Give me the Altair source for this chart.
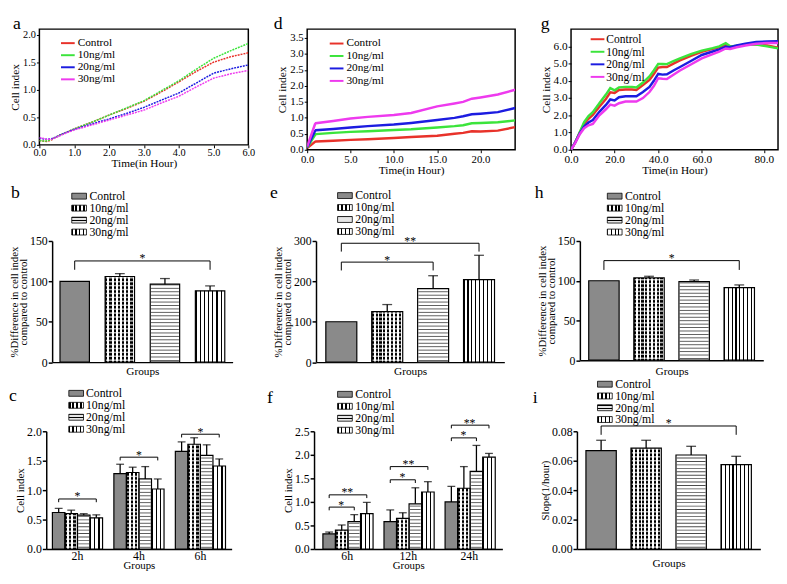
import altair as alt
import pandas as pd

FONT = "Liberation Serif"
GROUPS = ["Control", "10ng/ml", "20ng/ml", "30ng/ml"]
LINE_COLORS = ["#e8322a", "#3be43b", "#1c1ce0", "#ee3aee"]

# ---------------- panel a (0-6 h) ----------------
A_T = [0, 0.1, 0.2, 0.35, 0.5, 0.75, 1.0, 1.5, 2.0, 2.5, 3.0, 3.5, 4.0, 4.5, 5.0, 5.5, 6.0]
A_CONTROL = [0.08, 0.07, 0.06, 0.09, 0.15, 0.22, 0.29, 0.41, 0.54, 0.66, 0.79, 0.96, 1.14, 1.33, 1.50, 1.60, 1.67]
A_10 = [0.08, 0.07, 0.07, 0.10, 0.15, 0.22, 0.29, 0.41, 0.54, 0.67, 0.80, 0.98, 1.16, 1.37, 1.57, 1.71, 1.84]
A_20 = [0.12, 0.11, 0.10, 0.11, 0.15, 0.22, 0.28, 0.38, 0.47, 0.57, 0.68, 0.81, 0.94, 1.12, 1.30, 1.38, 1.45]
A_30 = [0.13, 0.12, 0.10, 0.10, 0.14, 0.21, 0.27, 0.36, 0.45, 0.54, 0.63, 0.76, 0.88, 1.05, 1.21, 1.29, 1.35]

# ---------------- panel d (0-24 h) ----------------
D_T = [0, 0.9, 1.0, 3, 5, 7, 10, 12, 15, 17, 18, 19, 20, 22, 24]
D_CONTROL = [0.05, 0.25, 0.26, 0.28, 0.31, 0.33, 0.37, 0.40, 0.44, 0.50, 0.53, 0.58, 0.57, 0.60, 0.71]
D_10 = [0.07, 0.46, 0.49, 0.53, 0.56, 0.58, 0.62, 0.64, 0.70, 0.74, 0.77, 0.83, 0.84, 0.86, 0.92]
D_20 = [0.08, 0.58, 0.61, 0.65, 0.70, 0.74, 0.79, 0.84, 0.93, 1.00, 1.05, 1.11, 1.13, 1.18, 1.31]
D_30 = [0.10, 0.80, 0.83, 0.90, 0.98, 1.03, 1.09, 1.15, 1.36, 1.45, 1.50, 1.60, 1.64, 1.73, 1.88]

# ---------------- panel g (long run) ----------------
G_T = [0, 2, 4, 6, 8, 10, 13, 16, 18, 20, 22, 25, 28, 30, 33, 36, 38, 40, 42, 44, 47, 50,
       55, 60, 65, 68, 71, 73, 76, 80, 85, 90, 95]
G_CONTROL = [0, 0.45, 1.0, 1.5, 1.8, 2.02, 2.5, 2.95, 3.33, 3.3, 3.47, 3.5, 3.5, 3.47, 3.75, 4.05, 4.4,
             4.77, 4.8, 4.8, 5.0, 5.18, 5.45, 5.68, 5.85, 5.95, 6.1, 5.98, 6.02, 6.1, 6.12, 6.05, 5.92]
G_10 = [0, 0.45, 1.02, 1.6, 1.95, 2.18, 2.7, 3.2, 3.58, 3.45, 3.62, 3.65, 3.65, 3.62, 3.9, 4.25, 4.6,
        4.98, 4.98, 4.97, 5.15, 5.3, 5.55, 5.75, 5.9, 6.0, 6.18, 6.0, 6.03, 6.1, 6.1, 6.0, 5.88]
G_20 = [0, 0.45, 0.95, 1.35, 1.58, 1.73, 2.2, 2.6, 2.92, 2.86, 3.05, 3.1, 3.1, 3.11, 3.35, 3.65, 4.0,
        4.4, 4.36, 4.38, 4.6, 4.8, 5.15, 5.5, 5.7, 5.82, 5.98, 5.95, 6.05, 6.15, 6.25, 6.28, 6.3]
G_30 = [0, 0.42, 0.9, 1.25, 1.42, 1.5, 2.0, 2.35, 2.62, 2.56, 2.7, 2.8, 2.8, 2.8, 3.0, 3.35, 3.7,
        4.15, 4.12, 4.1, 4.35, 4.6, 4.95, 5.3, 5.55, 5.7, 5.88, 5.85, 5.95, 6.05, 6.15, 6.2, 6.2]

# ---------------- bar panels b, e, h, i ----------------
B_MEAN = [100, 106, 96.5, 88.3]
B_SEM = [0, 3.6, 7.0, 6.1]
B_SIG = [(None, "Control", "30ng/ml", 125.3, "*")]

E_MEAN = [100, 124.9, 182, 204.4]
E_SEM = [0, 17.7, 32, 60.2]
E_SIG = [(None, "Control", "30ng/ml", 294.4, "**"), (None, "Control", "20ng/ml", 247.7, "*")]

H_MEAN = [100, 103.5, 98.8, 91.3]
H_SEM = [0, 2.1, 2.1, 3.4]
H_SIG = [(None, "Control", "30ng/ml", 125.3, "*")]

I_MEAN = [0.0669, 0.0685, 0.0639, 0.0574]
I_SEM = [0.0070, 0.0054, 0.0059, 0.0056]
I_SIG = [(None, "Control", "30ng/ml", 0.0836, "*")]

# ---------------- grouped bar panels c, f ----------------
C_TIMES = ["2h", "4h", "6h"]
C_CONTROL = [0.62, 1.28, 1.66]
C_CONTROL_SEM = [0.07, 0.16, 0.16]
C_10 = [0.60, 1.30, 1.78]
C_10_SEM = [0.06, 0.09, 0.11]
C_20 = [0.575, 1.19, 1.59]
C_20_SEM = [0.025, 0.21, 0.18]
C_30 = [0.53, 1.02, 1.41]
C_30_SEM = [0.05, 0.17, 0.12]
C_SIG = [("2h", "Control", "30ng/ml", 0.85, "*"), ("4h", "Control", "30ng/ml", 1.56, "*"),
         ("6h", "Control", "30ng/ml", 1.95, "*")]

F_TIMES = ["6h", "12h", "24h"]
F_CONTROL = [0.32, 0.58, 1.00]
F_CONTROL_SEM = [0.04, 0.25, 0.33]
F_10 = [0.40, 0.65, 1.29]
F_10_SEM = [0.11, 0.12, 0.46]
F_20 = [0.58, 0.96, 1.65]
F_20_SEM = [0.15, 0.34, 0.55]
F_30 = [0.75, 1.21, 1.95]
F_30_SEM = [0.24, 0.22, 0.08]
F_SIG = [("6h", "Control", "20ng/ml", 0.89, "*"), ("6h", "Control", "30ng/ml", 1.15, "**"),
         ("12h", "Control", "20ng/ml", 1.47, "*"), ("12h", "Control", "30ng/ml", 1.75, "**"),
         ("24h", "Control", "20ng/ml", 2.36, "*"), ("24h", "Control", "30ng/ml", 2.63, "**")]

ONE = pd.DataFrame({"k": [0]})


def stripe_grad(n, dark_frac, horizontal_lines=False, dark="black", light="white"):
    stops = []
    for k in range(n):
        a = k / n
        b = (k + dark_frac) / n
        c = (k + 1) / n
        stops += [alt.GradientStop(offset=a, color=dark), alt.GradientStop(offset=b, color=dark),
                  alt.GradientStop(offset=b, color=light), alt.GradientStop(offset=c, color=light)]
    if horizontal_lines:
        return alt.LinearGradient(gradient="linear", stops=stops, x1=0, x2=0, y1=0, y2=1)
    return alt.LinearGradient(gradient="linear", stops=stops, x1=0, x2=1, y1=0, y2=0)


def box_at(x, y):
    # invisible 1px box, used to fix the layout extent of a panel
    return alt.Chart(ONE).mark_rect(opacity=0).encode(
        x=alt.value(x), x2=alt.value(x + 1), y=alt.value(y), y2=alt.value(y + 1))


def anchors(w, h, anc):
    lx, ty, rx, by = anc
    return [box_at(-lx, -ty), box_at(w + rx - 1, h + by - 1)]


def letter(ch, rx, ry):
    # ry is the wanted baseline; drawn with a top baseline 13px above it
    return alt.Chart(ONE).mark_text(text=ch, font=FONT, fontSize=18, align="left",
                                    baseline="top", color="black").encode(
        x=alt.value(rx), y=alt.value(ry - 13))


def line_legend(lx, ly, dy, tx, fs):
    layers = []
    for i, (g, c) in enumerate(zip(GROUPS, LINE_COLORS)):
        y = ly + i * dy
        layers.append(alt.Chart(ONE).mark_rule(color=c, strokeWidth=2).encode(
            x=alt.value(lx), x2=alt.value(lx + 14), y=alt.value(y)))
        layers.append(alt.Chart(ONE).mark_text(text=g, font=FONT, fontSize=fs, align="left",
                                               baseline="middle", color="black").encode(
            x=alt.value(tx), y=alt.value(y)))
    return layers


def line_panel(t, series, xdom, ydom, w, h, xvals, yvals, lab_fs, sw, dash, leg, let, anc,
               xlabel_expr=None, lab_pad=1):
    rows = []
    for g, vals in zip(GROUPS, series):
        for tt, v in zip(t, vals):
            rows.append({"t": tt, "v": v, "g": g})
    df = pd.DataFrame(rows)
    xa = dict(values=xvals, format=".1f", title="Time(in Hour)", labelFontSize=lab_fs,
              titleFontSize=11.5, tickSize=3, labelPadding=lab_pad, titlePadding=0, domain=False,
              labelFlush=False, labelOverlap=False)
    if xlabel_expr:
        xa["labelExpr"] = xlabel_expr
    mk = dict(strokeWidth=sw, clip=True)
    if dash:
        mk["strokeDash"] = dash
    lines = alt.Chart(df).mark_line(**mk).encode(
        x=alt.X("t:Q", scale=alt.Scale(domain=xdom, nice=False, zero=False), axis=alt.Axis(**xa)),
        y=alt.Y("v:Q", scale=alt.Scale(domain=ydom, nice=False, zero=False),
                axis=alt.Axis(values=yvals, format=".1f", title="Cell index", labelFontSize=lab_fs,
                              titleFontSize=11.5, tickSize=3, labelPadding=1, titlePadding=2,
                              domain=False, labelOverlap=False)),
        color=alt.Color("g:N", scale=alt.Scale(domain=GROUPS, range=LINE_COLORS), legend=None),
    )
    layers = [lines] + line_legend(*leg) + [letter(let[2], let[0], let[1])] + anchors(w, h, anc)
    return alt.layer(*layers).properties(
        width=w, height=h, view=alt.ViewBackground(stroke="black", strokeWidth=1.5))


def bar_panel(times, means, sems, ydom, w, h, pi, po, yvals, yfmt, ytitle, sigs, drop_px,
              leg, let, groups_pad, cap, anc):
    n_x = len(times) if times else 4
    step = w / (n_x - pi + 2 * po)
    bw = step * (1 - pi)
    barw = bw / 4 if times else bw
    upp = (ydom[1] - ydom[0]) / h
    rows = []
    for gi, g in enumerate(GROUPS):
        if times:
            for ti, t in enumerate(times):
                m, s = means[gi][ti], sems[gi][ti]
                rows.append({"t": t, "g": g, "m": m, "hi": m + s, "e": s})
        else:
            m, s = means[gi], sems[gi]
            rows.append({"t": "", "g": g, "m": m, "hi": m + s, "e": s})
    df = pd.DataFrame(rows)
    xfield = "t:N" if times else "g:N"
    xs = alt.Scale(domain=times if times else GROUPS, paddingInner=pi, paddingOuter=po)
    ys = alt.Scale(domain=ydom, nice=False, zero=False)
    xos = alt.Scale(domain=GROUPS, paddingInner=0, paddingOuter=0)
    xaxis = alt.Axis(labels=bool(times), ticks=False, title="Groups", labelFontSize=12,
                     labelPadding=2, titlePadding=groups_pad, domainWidth=1.5,
                     titleFontSize=11 if times else 11.5, labelAngle=0)
    yaxis = alt.Axis(values=yvals, format=yfmt, title=ytitle, labelFontSize=12, tickSize=4,
                     tickWidth=1.5, domainWidth=1.5, labelPadding=1, titlePadding=1,
                     titleFontSize=11, titleLineHeight=9, labelOverlap=False)

    def X():
        return alt.X(xfield, scale=xs, axis=xaxis)

    def Y(f):
        return alt.Y(f, scale=ys, axis=yaxis)

    def off():
        return {"xOffset": alt.XOffset("g:N", scale=xos)} if times else {}

    nstr = max(2, round(barw / 4))
    fills = ["#8a8a8a", stripe_grad(nstr, 0.55), "white", stripe_grad(nstr, 0.3)]
    layers = []
    for gi, g in enumerate(GROUPS):
        layers.append(alt.Chart(df).transform_filter(alt.datum.g == g).mark_bar(
            fill=fills[gi], strokeWidth=0).encode(x=X(), y=Y("m:Q"), **off()))
    st10 = 4.0 * upp
    st20 = 3.5 * upp
    layers.append(alt.Chart(df).transform_filter(alt.datum.g == "10ng/ml").transform_calculate(
        s=f"sequence({st10 * 0.5:.6g}, datum.m, {st10:.6g})").transform_flatten(["s"]).mark_tick(
        orient="horizontal", color="white", thickness=1.5, size=barw - 1.5).encode(
        x=X(), y=Y("s:Q"), **off()))
    layers.append(alt.Chart(df).transform_filter(alt.datum.g == "20ng/ml").transform_calculate(
        s=f"sequence({st20 * 0.5:.6g}, datum.m, {st20:.6g})").transform_flatten(["s"]).mark_tick(
        orient="horizontal", color="black", thickness=0.9, size=barw - 1.5).encode(
        x=X(), y=Y("s:Q"), **off()))
    layers.append(alt.Chart(df).mark_bar(fillOpacity=0, stroke="black", strokeWidth=1.2).encode(
        x=X(), y=Y("m:Q"), **off()))
    layers.append(alt.Chart(df).transform_filter("datum.e > 0").mark_rule(
        color="black", strokeWidth=1.3).encode(x=X(), y=Y("m:Q"), y2="hi:Q", **off()))
    layers.append(alt.Chart(df).transform_filter("datum.e > 0").mark_tick(
        orient="horizontal", color="black", thickness=1.3, size=cap).encode(
        x=X(), y=Y("hi:Q"), **off()))
    brows = []
    drop = drop_px * upp
    for k, (t, g1, g2, L, lab) in enumerate(sigs):
        for o, (gg, vv) in enumerate([(g1, L - drop), (g1, L), (g2, L), (g2, L - drop)]):
            brows.append({"id": k, "o": o, "g": gg, "v": vv, "t": t if t else ""})
    bdf = pd.DataFrame(brows)
    layers.append(alt.Chart(bdf).mark_line(color="black", strokeWidth=1).encode(
        x=X(), y=Y("v:Q"), detail="id:N", order="o:Q", **off()))
    for (t, g1, g2, L, lab) in sigs:
        i1, i2 = GROUPS.index(g1), GROUPS.index(g2)
        dx = (i2 - i1) * (barw if times else step) / 2
        sdf = pd.DataFrame([{"t": t if t else "", "g": g1, "v": L}])
        layers.append(alt.Chart(sdf).mark_text(
            text=lab, dx=dx, dy=1.5, baseline="alphabetic", align="center", font=FONT,
            fontSize=12, color="black").encode(x=X(), y=Y("v:Q"), **off()))
    lx, ly, dy, tx = leg
    small = ["#8a8a8a", stripe_grad(4, 0.5), stripe_grad(2, 0.3, horizontal_lines=True, light="#e6e6e6"),
             stripe_grad(4, 0.3)]
    for i, g in enumerate(GROUPS):
        y = ly + i * dy
        layers.append(alt.Chart(ONE).mark_rect(fill=small[i], stroke="black", strokeWidth=0.8).encode(
            x=alt.value(lx), x2=alt.value(lx + 15), y=alt.value(y - 3), y2=alt.value(y + 3)))
        layers.append(alt.Chart(ONE).mark_text(text=g, font=FONT, fontSize=12, align="left",
                                               baseline="middle", color="black").encode(
            x=alt.value(tx), y=alt.value(y)))
    layers.append(letter(let[2], let[0], let[1]))
    layers += anchors(w, h, anc)
    return alt.layer(*layers).properties(width=w, height=h)


def spacer():
    return box_at(0, 0).properties(width=1, height=1)


A = line_panel(A_T, [A_CONTROL, A_10, A_20, A_30], [0, 6], [0, 2.1], 213, 118,
               [0, 1, 2, 3, 4, 5, 6], [0, 0.5, 1.0, 1.5, 2.0], 10.5, 1.5, [2, 1],
               (22, 14.3, 12.3, 39, 11.5), (-27, -1, "a"), (26, 15, 13, 35), lab_pad=0)
D = line_panel(D_T, [D_CONTROL, D_10, D_20, D_30], [0, 24], [0, 3.78], 212, 123,
               [0, 5, 10, 15, 20], [0, 0.5, 1.0, 1.5, 2.0, 2.5, 3.0, 3.5], 11, 2.5, None,
               (23, 14.7, 12.7, 40, 11.5), (-34, -1, "d"), (45, 15, 15, 30))
G = line_panel(G_T, [G_CONTROL, G_10, G_20, G_30], [0, 95], [0, 7], 211, 123,
               [0, 20, 40, 60, 88.5], [0, 1, 2, 3, 4, 5, 6], 11.5, 2.5, None,
               (20, 10.3, 12.8, 36, 11.7), (-31, -1, "g"), (40, 15, 0, 30),
               xlabel_expr="datum.value > 80 ? '80.0' : format(datum.value, '.1f')")

PCT_TITLE = ["%Difference in cell index", "compared to control"]
B = bar_panel(None, B_MEAN, B_SEM, [0, 150], 184, 123.5, 0.348, 0.174, [0, 50, 100, 150], "d",
              PCT_TITLE, B_SIG, 9, (20, -45.7, 12.2, 38), (-42, -45, "b"), 4, 10, (41, 62, 35, 16.5))
E = bar_panel(None, E_MEAN, E_SEM, [0, 300], 192, 123.5, 0.325, 0.214, [0, 100, 200, 300], "d",
              PCT_TITLE, E_SIG, 8.5, (22, -46.3, 12.2, 40), (-47, -45, "e"), 4, 10, (50, 62, 27, 16.5))
H = bar_panel(None, H_MEAN, H_SEM, [0, 150], 187, 121.5, 0.326, 0.196, [0, 50, 100, 150], "d",
              PCT_TITLE, H_SIG, 9.5, (28, -45.7, 12.2, 46), (-46, -45, "h"), 6, 10, (50, 62, 0, 18.5))
C = bar_panel(C_TIMES, [C_CONTROL, C_10, C_20, C_30], [C_CONTROL_SEM, C_10_SEM, C_20_SEM, C_30_SEM],
              [0, 2.0], 189, 120, 0.184, 0.1, [0, 0.5, 1.0, 1.5, 2.0], ".1f", "Cell index",
              C_SIG, 3.3, (23, -38.7, 12.2, 40.5), (-38, -32, "c"), -2, 8, (38, 54, 34, 20))
F = bar_panel(F_TIMES, [F_CONTROL, F_10, F_20, F_30], [F_CONTROL_SEM, F_10_SEM, F_20_SEM, F_30_SEM],
              [0, 2.5], 192, 120, 0.207, 0.145, [0, 0.5, 1.0, 1.5, 2.0, 2.5], ".1f", "Cell index",
              F_SIG, 3.3, (24, -37.7, 12.2, 42), (-48, -30, "f"), -2, 8, (50, 54, 26, 20))
I = bar_panel(None, I_MEAN, I_SEM, [0, 0.08], 187, 120, 0.326, 0.2, [0, 0.02, 0.04, 0.06, 0.08], ".2f",
              "Slope(1/hour)", I_SIG, 9, (21, -48, 12, 39), (-45, -30, "i"), 9, 10, (50, 54, 0, 20))

row1 = alt.hconcat(spacer(), A, D, G, spacing=0)
row2 = alt.hconcat(spacer(), B, E, H, spacing=0)
row3 = alt.hconcat(spacer(), C, F, I, spacing=0)

chart = alt.vconcat(row1, row2, row3, spacing=0).properties(
    padding=0, background="white").configure_view(strokeWidth=0).configure_axis(
    labelFont=FONT, titleFont=FONT, labelColor="black", titleColor="black", tickColor="black",
    domainColor="black", titleFontWeight="normal", grid=False)

chart.save("out.html", embed_options={"renderer": "svg", "actions": False})
